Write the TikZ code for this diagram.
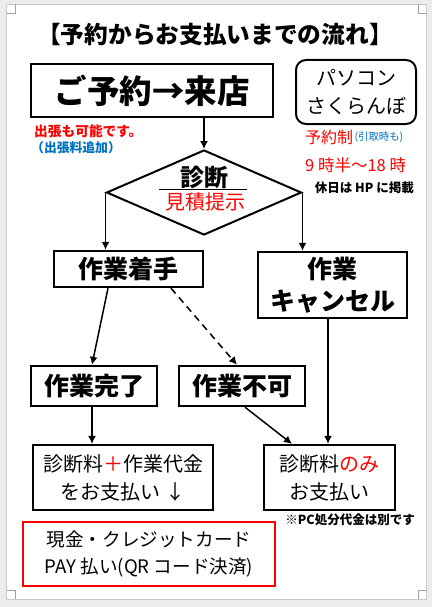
\documentclass[tikz,border=0pt]{standalone}
\usepackage{fontspec}
\usepackage{tikz}
\usetikzlibrary{positioning,shapes.geometric,arrows.meta}
\setmainfont{Noto Sans CJK JP}

\definecolor{pagegray}{RGB}{236,236,236}
\definecolor{edgegray}{RGB}{200,200,200}
\definecolor{markgray}{RGB}{160,160,160}
\definecolor{notered}{RGB}{255,0,0}
\definecolor{noteblue}{RGB}{0,112,192}

\tikzset{
  flowbox/.style={draw, line width=2.4pt, inner sep=0pt, align=center,
    font=\bfseries\fontsize{25}{32}\selectfont},
  paybox/.style={draw, line width=2.2pt, inner sep=0pt, align=center,
    font=\fontsize{20}{28}\selectfont},
  flowarrow/.style={line width=1.5pt, -{Latex[length=8pt,width=8pt]}},
}

\begin{document}
\begin{tikzpicture}[x=1pt,y=-1pt]

% Word page on grey ground
\fill[pagegray] (0,0) rectangle (432,607);
\useasboundingbox (0,0) rectangle (432,607);
\filldraw[fill=white,draw=edgegray,line width=0.8pt] (6.5,4) rectangle (426.7,599);
\draw[markgray,line width=0.8pt] (15.6,4) -- (15.6,13.4) -- (6.5,13.4);
\draw[markgray,line width=0.8pt] (418.5,4) -- (418.5,13.4) -- (426.7,13.4);
\draw[markgray,line width=0.8pt] (15.6,599) -- (15.6,590.8) -- (6.5,590.8);
\draw[markgray,line width=0.8pt] (418.5,599) -- (418.5,590.8) -- (426.7,590.8);

% Title
\node[font=\bfseries\fontsize{23.7}{28}\selectfont] (title) at (215,35) {【予約からお支払いまでの流れ】};

% Reservation box and shop name
\node[flowbox, minimum width=242pt, minimum height=53pt,
  font=\bfseries\fontsize{32.5}{36}\selectfont] (yoyaku) at (152,90.5) {ご予約→来店};
\node[draw, line width=2pt, rounded corners=10pt, minimum width=120pt, minimum height=64pt,
  inner sep=0pt, align=center, font=\fontsize{20}{28}\selectfont] (shop) at (356,92) {パソコン\\さくらんぼ};

% Notes under the reservation box
\node[anchor=west, inner sep=0pt, text=notered, font=\bfseries\fontsize{13.7}{16}\selectfont] (trip) at (34,131) {出張も可能です。};
\node[anchor=west, inner sep=0pt, text=noteblue, font=\bfseries\fontsize{12.8}{16}\selectfont] (tripfee) at (31,148) {（出張料追加）};

% Opening hours
\node[anchor=west, inner sep=0pt, text=notered, font=\fontsize{16}{20}\selectfont] (rsv) at (305,137) {予約制};
\node[anchor=west, inner sep=0pt, text=noteblue, font=\fontsize{10.4}{12}\selectfont] (pickup) at ([xshift=1pt]rsv.east) {(引取時も)};
\node[anchor=west, inner sep=0pt, text=notered, font=\fontsize{16.5}{20}\selectfont] (hours) at (305,165) {9 時半～18 時};
\node[anchor=east, inner sep=0pt, font=\bfseries\fontsize{12.5}{16}\selectfont] (holiday) at (414,188) {休日は HP に掲載};

% Diagnosis diamond
\node[draw, diamond, line width=2pt, minimum width=195pt, minimum height=85pt, inner sep=0pt] (diag) at (204,192.5) {};
\node[inner sep=0pt, font=\bfseries\fontsize{24}{28}\selectfont] (shindan) at (204,177) {診断};
\draw[line width=1pt] (159,189.3) -- (247,189.3);
\node[inner sep=0pt, text=notered, font=\fontsize{20}{24}\selectfont] (mitsumori) at (205,201.5) {見積提示};

% Work boxes
\node[flowbox, minimum width=149pt, minimum height=36pt] (chakushu) at (128.5,269) {作業着手};
\node[flowbox, minimum width=149pt, minimum height=66pt] (cancel) at (332.5,285) {作業\\キャンセル};
\node[flowbox, minimum width=126pt, minimum height=40pt] (kanryo) at (94,386) {作業完了};
\node[flowbox, minimum width=126pt, minimum height=40pt] (fuka) at (242,386) {作業不可};

% Payment boxes
\node[paybox, minimum width=180pt, minimum height=65pt] (payfull) at (123,477.5)
  {診断料{\color{notered}＋}作業代金\\をお支払い ↓};
\node[paybox, minimum width=131pt, minimum height=65pt] (payfee) at (329.5,477.5)
  {診断料{\color{notered}のみ}\\お支払い};
\node[anchor=east, inner sep=0pt, font=\bfseries\fontsize{12.5}{16}\selectfont] (pcnote) at (415,520) {※PC処分代金は別です};

% Payment methods
\node[draw=notered, line width=2pt, minimum width=252pt, minimum height=64pt, inner sep=0pt,
  align=center, font=\fontsize{18.6}{27}\selectfont] (method) at (149,554)
  {現金・クレジットカード\\PAY 払い(QR コード決済)};

% Connectors
\draw[flowarrow] (yoyaku.south -| diag.north) -- (diag.north);
\draw[flowarrow] (diag.west) -- (diag.west |- chakushu.north);
\draw[flowarrow] (diag.east) -- (diag.east |- cancel.north);
\draw[flowarrow] ([xshift=-20.5pt]chakushu.south) -- ([xshift=-2pt]kanryo.north);
\draw[flowarrow, dash pattern=on 7pt off 5pt] ([xshift=42.5pt]chakushu.south) -- ([xshift=-5pt]fuka.north);
\draw[flowarrow] ([xshift=-2pt]kanryo.south) -- ([xshift=-2pt]kanryo.south |- payfull.north);
\draw[flowarrow] ([xshift=3pt]fuka.south) -- ([xshift=-37.5pt]payfee.north);
\draw[flowarrow] ([xshift=-4.5pt]cancel.south) -- ([xshift=-4.5pt]cancel.south |- payfee.north);

\end{tikzpicture}
\end{document}
